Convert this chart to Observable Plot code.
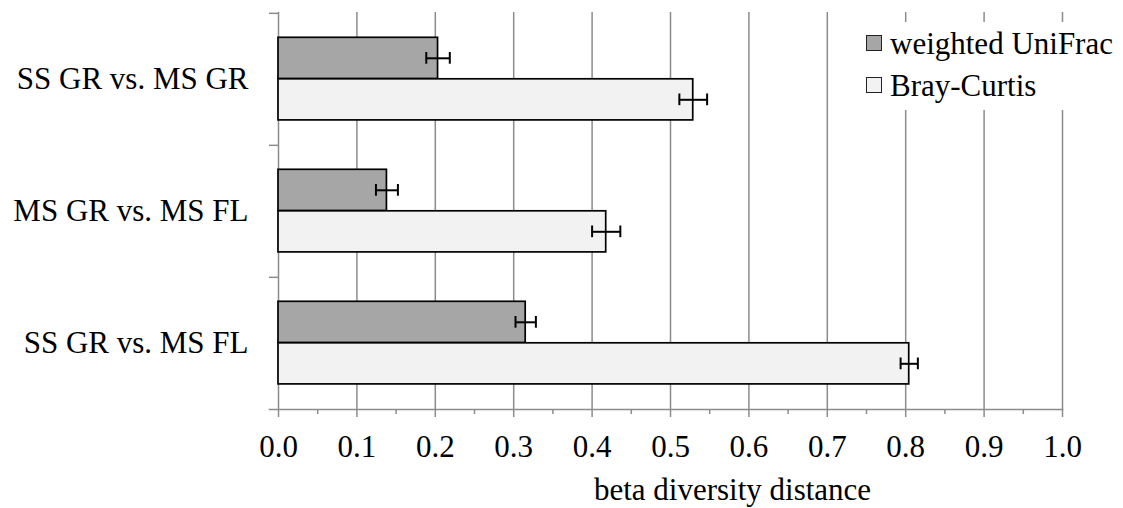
<!DOCTYPE html>
<html>
<head>
<meta charset="utf-8">
<script src="https://cdn.jsdelivr.net/npm/d3@7"></script>
<script src="https://cdn.jsdelivr.net/npm/@observablehq/plot@0.6"></script>
<style>
  html, body { margin: 0; padding: 0; background: #fff; }
  #wrap { position: relative; width: 1123px; height: 508px; font-family: "Liberation Serif", "DejaVu Serif", "Noto Serif", Tinos, "Times New Roman", Times, serif; }
  #legend { position: absolute; left: 858px; top: 22px; width: 262px; background: #fff; padding: 0 0 4px 8px; box-sizing: border-box; }
  .row { display: flex; align-items: center; height: 42px; font-size: 31px; line-height: 1; color: #000; }
  .sw { width: 14px; height: 14px; border: 1.5px solid #222; margin-right: 8px; flex: none; }
</style>
</head>
<body>
<div id="wrap"></div>
<script>
const categories = ["SS GR vs. MS GR", "MS GR vs. MS FL", "SS GR vs. MS FL"];
const seriesNames = ["weighted UniFrac", "Bray-Curtis"];
const seriesColors = ["#a6a6a6", "#f2f2f2"];
const unifrac = [0.2035, 0.1383, 0.3153];
const unifracErr = [0.015, 0.014, 0.013];
const bray = [0.529, 0.418, 0.8045];
const brayErr = [0.0177, 0.018, 0.011];
const xTicks = [0, 0.1, 0.2, 0.3, 0.4, 0.5, 0.6, 0.7, 0.8, 0.9, 1.0];
const xTickLabels = ["0.0", "0.1", "0.2", "0.3", "0.4", "0.5", "0.6", "0.7", "0.8", "0.9", "1.0"];
const xMinorTicks = [0.05, 0.15, 0.25, 0.35, 0.45, 0.55, 0.65, 0.75, 0.85, 0.95];
const xLabel = "beta diversity distance";

const fontStack = "'Liberation Serif', 'DejaVu Serif', 'Noto Serif', Tinos, 'Times New Roman', Times, serif";
const gray = "#8c8c8c";
const barStroke = { stroke: "#000", strokeWidth: 1.7 };

const chart = Plot.plot({
  width: 1123,
  height: 508,
  marginLeft: 278,
  marginRight: 61,
  marginTop: 12,
  marginBottom: 99,
  style: { fontFamily: fontStack, fontSize: "31px", background: "#fff", color: "#000" },
  x: { domain: [0, 1] },
  y: { domain: categories, padding: 0 },
  marks: [
    Plot.gridX(xTicks, { stroke: gray, strokeOpacity: 1, strokeWidth: 1.5 }),
    Plot.frame({ anchor: "bottom", stroke: gray, strokeWidth: 1.5, insetLeft: -9 }),
    Plot.axisX(xTicks, { tickSize: 8, tickPadding: 17, stroke: gray, strokeWidth: 1.5, fill: "#000", fontSize: 31, fontFamily: fontStack, label: null, tickFormat: d => xTickLabels[xTicks.indexOf(d)] }),
    Plot.axisX(xMinorTicks, { tickSize: 5, text: null, label: null, stroke: gray, strokeWidth: 1.5 }),
    Plot.axisY({ tickSize: 9, text: null, label: null, stroke: gray, strokeWidth: 1.5, dy: -66.17 }),
    Plot.axisY({ tickSize: 0, tickPadding: 30, label: null, fontSize: 31, fontFamily: fontStack, fill: "#000" }),
    Plot.barX(categories, { y: d => d, x: (d, i) => unifrac[i], fill: seriesColors[0], ...barStroke, insetTop: 24.3, insetBottom: 66.5 }),
    Plot.barX(categories, { y: d => d, x: (d, i) => bray[i], fill: seriesColors[1], ...barStroke, insetTop: 65.8, insetBottom: 25.1 }),
    Plot.ruleY(categories, { y: d => d, x1: (d, i) => unifrac[i] - unifracErr[i], x2: (d, i) => unifrac[i] + unifracErr[i], stroke: "#000", strokeWidth: 2, dy: -21.2 }),
    Plot.tickX(categories, { y: d => d, x: (d, i) => unifrac[i] - unifracErr[i], stroke: "#000", strokeWidth: 2, insetTop: 39, insetBottom: 81.3 }),
    Plot.tickX(categories, { y: d => d, x: (d, i) => unifrac[i] + unifracErr[i], stroke: "#000", strokeWidth: 2, insetTop: 39, insetBottom: 81.3 }),
    Plot.ruleY(categories, { y: d => d, x1: (d, i) => bray[i] - brayErr[i], x2: (d, i) => bray[i] + brayErr[i], stroke: "#000", strokeWidth: 2, dy: 20.3 }),
    Plot.tickX(categories, { y: d => d, x: (d, i) => bray[i] - brayErr[i], stroke: "#000", strokeWidth: 2, insetTop: 80.5, insetBottom: 39.8 }),
    Plot.tickX(categories, { y: d => d, x: (d, i) => bray[i] + brayErr[i], stroke: "#000", strokeWidth: 2, insetTop: 80.5, insetBottom: 39.8 }),
    Plot.text([xLabel], { text: d => d, frameAnchor: "bottom", dx: 62, dy: 81, fontSize: 31, fontFamily: fontStack, fill: "#000", lineAnchor: "middle", textAnchor: "middle" })
  ]
});

const wrap = document.getElementById("wrap");
wrap.appendChild(chart);
const legend = document.createElement("div");
legend.id = "legend";
seriesNames.forEach((name, i) => {
  const row = document.createElement("div");
  row.className = "row";
  const sw = document.createElement("span");
  sw.className = "sw";
  sw.style.background = seriesColors[i];
  const t = document.createElement("span");
  t.textContent = name;
  row.appendChild(sw);
  row.appendChild(t);
  legend.appendChild(row);
});
wrap.appendChild(legend);
</script>
</body>
</html>
